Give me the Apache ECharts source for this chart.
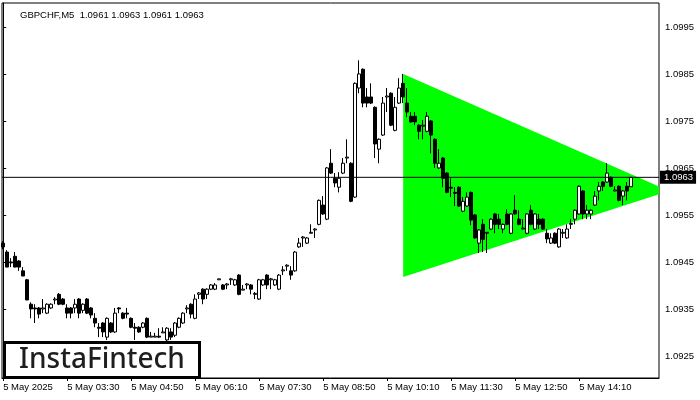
<!DOCTYPE html>
<html><head><meta charset="utf-8">
<script src="https://cdn.jsdelivr.net/npm/echarts@6/dist/echarts.min.js"></script>
<style>html,body{margin:0;padding:0;background:#fff}#c{width:700px;height:400px}</style>
</head><body><div id="c"></div>
<script>
const titleText = 'GBPCHF,M5  1.0961 1.0963 1.0961 1.0963';
const xLabels = ['5 May 2025','5 May 03:30','5 May 04:50','5 May 06:10','5 May 07:30','5 May 08:50','5 May 10:10','5 May 11:30','5 May 12:50','5 May 14:10'];
const xLabelIdx = [0,16,32,48,64,80,96,112,128,144];
const yTicks = [1.0925,1.0935,1.0945,1.0955,1.0965,1.0975,1.0985,1.0995];
const lastPrice = 1.0963;
const opens = [1.09490,1.09471,1.09450,1.09462,1.09452,1.09431,1.09412,1.09360,1.09352,1.09352,
1.09350,1.09341,1.09352,1.09369,1.09381,1.09371,1.09352,1.09352,1.09352,1.09371,
1.09347,1.09371,1.09352,1.09330,1.09311,1.09320,1.09290,1.09320,1.09301,1.09352,
1.09341,1.09341,1.09330,1.09311,1.09311,1.09311,1.09330,1.09290,1.09290,1.09292,
1.09299,1.09284,1.09301,1.09294,1.09311,1.09320,1.09350,1.09360,1.09330,1.09381,
1.09392,1.09381,1.09392,1.09392,1.09412,1.09401,1.09401,1.09412,1.09401,1.09422,
1.09390,1.09401,1.09401,1.09381,1.09371,1.09401,1.09422,1.09412,1.09401,1.09392,
1.09431,1.09441,1.09431,1.09431,1.09482,1.09501,1.09490,1.09511,1.09518,1.09530,
1.09571,1.09541,1.09660,1.09628,1.09609,1.09639,1.09671,1.09660,1.09588,1.09820,
1.09860,1.09801,1.09801,1.09779,1.09690,1.09720,1.09801,1.09809,1.09730,1.09788,
1.09830,1.09788,1.09760,1.09760,1.09741,1.09739,1.09728,1.09750,1.09711,1.09650,
1.09671,1.09639,1.09609,1.09598,1.09609,1.09558,1.09569,1.09598,1.09550,1.09490,
1.09530,1.09511,1.09520,1.09552,1.09541,1.09520,1.09552,1.09511,1.09560,1.09541,
1.09520,1.09511,1.09560,1.09520,1.09541,1.09541,1.09511,1.09490,1.09511,1.09482,
1.09511,1.09501,1.09530,1.09541,1.09552,1.09601,1.09552,1.09552,1.09571,1.09601,
1.09620,1.09620,1.09630,1.09601,1.09611,1.09590,1.09611,1.09610];
const closes = [1.09482,1.09439,1.09448,1.09439,1.09439,1.09420,1.09369,1.09350,1.09350,1.09339,
1.09352,1.09360,1.09360,1.09371,1.09360,1.09360,1.09341,1.09341,1.09360,1.09341,
1.09360,1.09341,1.09337,1.09320,1.09309,1.09301,1.09330,1.09301,1.09341,1.09350,
1.09330,1.09339,1.09311,1.09309,1.09301,1.09320,1.09290,1.09292,1.09292,1.09290,
1.09301,1.09309,1.09290,1.09320,1.09330,1.09341,1.09352,1.09339,1.09371,1.09384,
1.09371,1.09392,1.09401,1.09401,1.09414,1.09392,1.09403,1.09414,1.09412,1.09381,
1.09392,1.09403,1.09392,1.09383,1.09412,1.09412,1.09401,1.09414,1.09412,1.09422,
1.09433,1.09443,1.09422,1.09471,1.09490,1.09503,1.09501,1.09513,1.09520,1.09581,
1.09552,1.09650,1.09639,1.09618,1.09628,1.09660,1.09673,1.09579,1.09830,1.09850,
1.09788,1.09788,1.09788,1.09701,1.09711,1.09788,1.09803,1.09741,1.09779,1.09820,
1.09801,1.09769,1.09748,1.09748,1.09728,1.09741,1.09760,1.09720,1.09660,1.09660,
1.09628,1.09598,1.09607,1.09596,1.09569,1.09579,1.09588,1.09539,1.09501,1.09518,
1.09498,1.09513,1.09541,1.09530,1.09530,1.09530,1.09530,1.09552,1.09552,1.09530,
1.09522,1.09552,1.09530,1.09552,1.09530,1.09520,1.09499,1.09501,1.09490,1.09520,
1.09513,1.09520,1.09532,1.09560,1.09611,1.09552,1.09560,1.09560,1.09590,1.09611,
1.09611,1.09639,1.09611,1.09603,1.09581,1.09601,1.09601,1.09630];
const lows = [1.09477,1.09439,1.09439,1.09439,1.09431,1.09420,1.09369,1.09330,1.09320,1.09330,
1.09341,1.09339,1.09350,1.09360,1.09358,1.09358,1.09330,1.09330,1.09341,1.09330,
1.09341,1.09339,1.09330,1.09311,1.09290,1.09290,1.09284,1.09299,1.09299,1.09341,
1.09328,1.09330,1.09309,1.09284,1.09299,1.09309,1.09288,1.09290,1.09290,1.09288,
1.09299,1.09280,1.09284,1.09290,1.09309,1.09318,1.09341,1.09330,1.09328,1.09371,
1.09360,1.09371,1.09390,1.09390,1.09412,1.09390,1.09392,1.09401,1.09399,1.09379,
1.09390,1.09392,1.09381,1.09371,1.09369,1.09399,1.09392,1.09392,1.09399,1.09390,
1.09422,1.09431,1.09412,1.09429,1.09480,1.09482,1.09488,1.09511,1.09501,1.09528,
1.09550,1.09539,1.09637,1.09609,1.09598,1.09637,1.09660,1.09577,1.09586,1.09809,
1.09779,1.09779,1.09786,1.09671,1.09660,1.09718,1.09769,1.09739,1.09728,1.09786,
1.09788,1.09758,1.09746,1.09741,1.09711,1.09711,1.09726,1.09681,1.09650,1.09648,
1.09609,1.09596,1.09588,1.09569,1.09567,1.09556,1.09567,1.09528,1.09499,1.09469,
1.09471,1.09469,1.09518,1.09511,1.09520,1.09511,1.09528,1.09509,1.09550,1.09528,
1.09520,1.09509,1.09528,1.09518,1.09520,1.09518,1.09490,1.09488,1.09488,1.09480,
1.09501,1.09499,1.09520,1.09530,1.09550,1.09541,1.09541,1.09541,1.09569,1.09581,
1.09601,1.09618,1.09609,1.09601,1.09579,1.09571,1.09581,1.09610];
const highs = [1.09494,1.09475,1.09458,1.09471,1.09454,1.09439,1.09414,1.09364,1.09360,1.09354,
1.09371,1.09362,1.09362,1.09375,1.09384,1.09373,1.09360,1.09354,1.09371,1.09373,
1.09362,1.09373,1.09354,1.09341,1.09320,1.09322,1.09332,1.09322,1.09352,1.09354,
1.09343,1.09352,1.09332,1.09320,1.09313,1.09322,1.09332,1.09301,1.09299,1.09309,
1.09311,1.09311,1.09309,1.09322,1.09332,1.09343,1.09358,1.09362,1.09381,1.09386,
1.09394,1.09394,1.09403,1.09405,1.09414,1.09403,1.09405,1.09416,1.09414,1.09424,
1.09401,1.09405,1.09403,1.09386,1.09414,1.09414,1.09424,1.09416,1.09414,1.09424,
1.09441,1.09445,1.09441,1.09473,1.09501,1.09505,1.09503,1.09530,1.09522,1.09583,
1.09590,1.09652,1.09690,1.09639,1.09641,1.09671,1.09711,1.09662,1.09832,1.09879,
1.09862,1.09820,1.09830,1.09781,1.09713,1.09801,1.09820,1.09811,1.09801,1.09841,
1.09850,1.09820,1.09769,1.09769,1.09743,1.09752,1.09769,1.09752,1.09713,1.09690,
1.09673,1.09641,1.09628,1.09609,1.09611,1.09588,1.09598,1.09600,1.09552,1.09520,
1.09541,1.09513,1.09543,1.09554,1.09552,1.09532,1.09562,1.09554,1.09592,1.09560,
1.09541,1.09554,1.09571,1.09554,1.09552,1.09543,1.09520,1.09511,1.09513,1.09522,
1.09520,1.09530,1.09541,1.09562,1.09613,1.09603,1.09571,1.09562,1.09601,1.09620,
1.09622,1.09660,1.09632,1.09611,1.09613,1.09603,1.09620,1.09630];
// triangle pattern vertices (bar index, price)
const triX = [100, 166.5, 100];
const triY = [1.0985, 1.09601, 1.09418];

const X_MIN = -0.3, X_MAX = 163.95;
const candles = opens.map((o, i) => [i, o, closes[i], lows[i], highs[i]]);
const FONT = 'Liberation Sans';
const chart = echarts.init(document.getElementById('c'), null, {renderer: 'canvas'});
chart.setOption({
  animation: false,
  backgroundColor: '#fff',
  grid: {left: 2, right: 41, top: 3, bottom: 22, show: true, borderColor: '#000', borderWidth: 1, backgroundColor: 'transparent'},
  title: {text: titleText, left: 15, top: 5, textStyle: {fontFamily: FONT, fontSize: 9.5, fontWeight: 'normal', color: '#000'}},
  xAxis: {
    type: 'value', min: X_MIN, max: X_MAX,
    axisLine: {show: true, lineStyle: {color: '#000', width: 1}},
    axisTick: {show: true, customValues: xLabelIdx, length: 3, lineStyle: {color: '#000'}},
    axisLabel: {show: true, customValues: xLabelIdx, align: 'left', margin: 4, fontFamily: FONT, fontSize: 9.5, color: '#000',
      formatter: v => xLabels[xLabelIdx.indexOf(Math.round(v))] || ''},
    splitLine: {show: false}
  },
  yAxis: {
    type: 'value', position: 'right', min: 1.09203, max: 1.10001, scale: true,
    axisLine: {show: true, lineStyle: {color: '#000', width: 1}},
    axisTick: {show: true, customValues: yTicks, length: 3, lineStyle: {color: '#000'}},
    axisLabel: {show: true, customValues: yTicks, margin: 6, fontFamily: FONT, fontSize: 9.5, color: '#000', formatter: v => v.toFixed(4)},
    splitLine: {show: false}
  },
  series: [
    {
      type: 'custom', z: 1, clip: true, silent: true,
      data: [[0]],
      encode: {x: -1, y: -1},
      renderItem: function (params, api) {
        const pts = triX.map((x, k) => api.coord([x, triY[k]]));
        return {type: 'polygon', shape: {points: pts}, style: {fill: '#00ff00', stroke: null}};
      }
    },
    {
      type: 'candlestick', z: 3, barWidth: 3,
      encode: {x: 0, y: [1, 2, 3, 4]},
      data: candles,
      itemStyle: {color: '#ffffff', color0: '#000000', borderColor: '#000000', borderColor0: '#000000', borderWidth: 1}
    },
    {
      type: 'line', z: 4, silent: true, symbol: 'none', clip: false,
      data: [[X_MIN, lastPrice], [X_MAX, lastPrice]],
      lineStyle: {color: '#000', width: 1, type: 'solid'},
      endLabel: {show: true, formatter: lastPrice.toFixed(4), backgroundColor: '#000', color: '#fff',
        fontFamily: FONT, fontSize: 9.5, padding: [2, 3, 1, 4], distance: 1}
    }
  ],
  graphic: [
    {type: 'rect', z: 100, shape: {x: 4.5, y: 342.5, width: 195, height: 35}, style: {fill: '#fff', stroke: '#000', lineWidth: 3}},
    {type: 'text', z: 101, x: 102, y: 360, style: {text: 'InstaFintech', fill: '#1e1e1e', font: '500 28px "Noto Sans"', textAlign: 'center', textVerticalAlign: 'middle'}}
  ]
});
</script></body></html>
